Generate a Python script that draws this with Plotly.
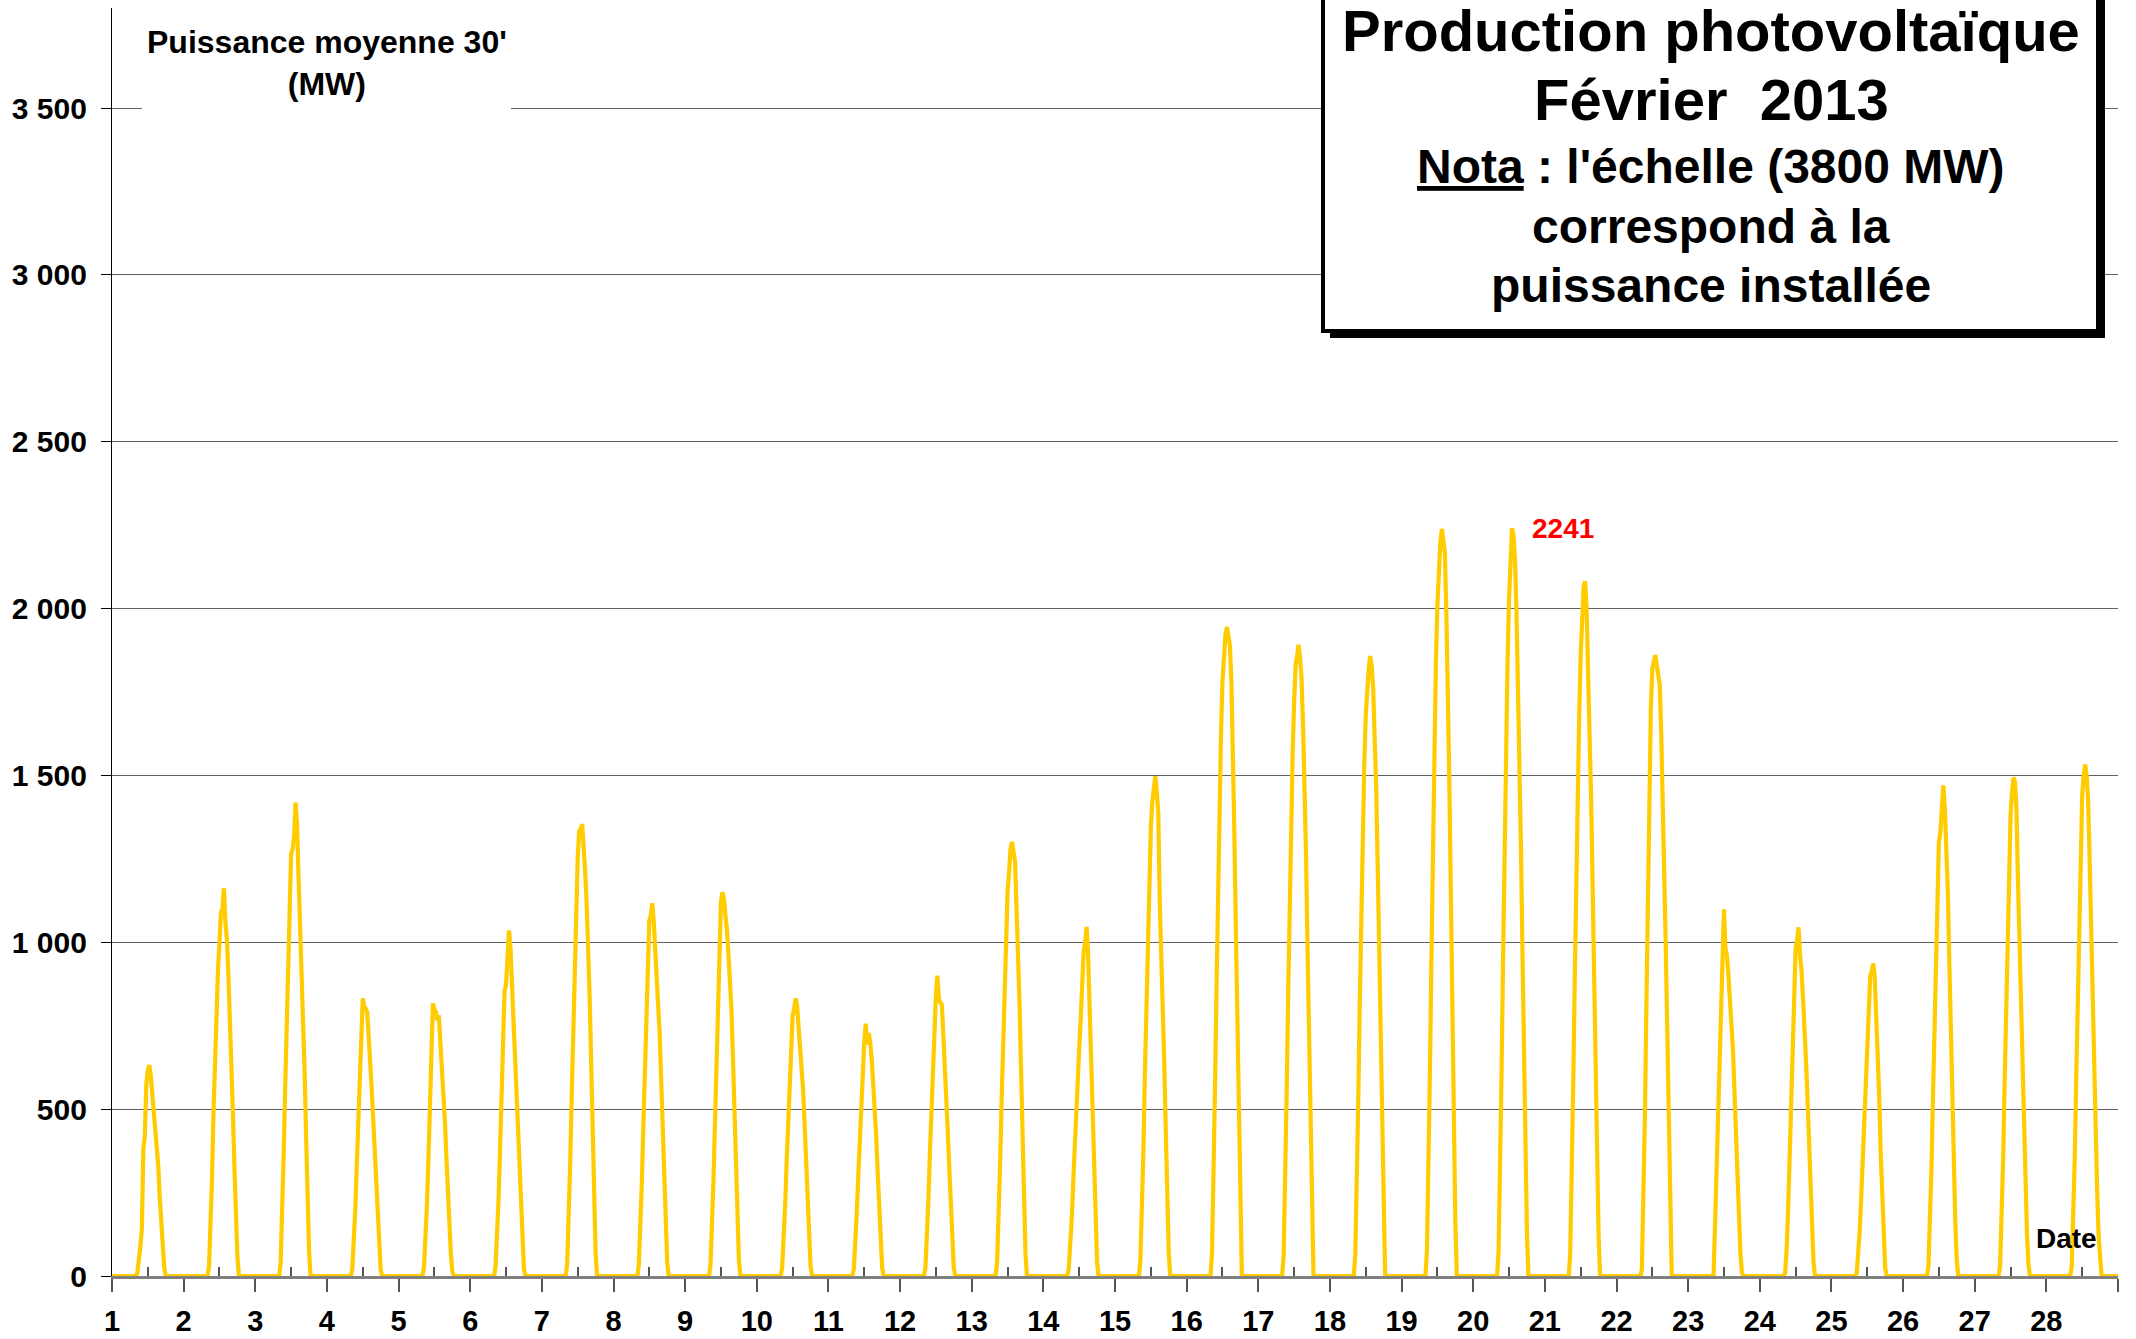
import plotly.graph_objects as go

# ---------------- DATA ----------------
# Half-hourly average PV power (MW), February 2013.
# Each list = values for the slots 08:00, 08:30, ..., 18:30 of that day (zero outside).
slot_start = "08:00"
day01 = [0, 10, 40, 90, 140, 380, 420, 575, 616, 632, 600, 544, 524, 470, 410, 330, 235, 150, 80, 25, 0, 0]
day02 = [0, 30, 150, 290, 490, 650, 780, 915, 1000, 1090, 1100, 1162, 1060, 1008, 900, 780, 640, 490, 330, 180, 60, 0]
day03 = [0, 40, 170, 360, 560, 760, 950, 1100, 1265, 1280, 1318, 1419, 1350, 1194, 1060, 936, 800, 620, 430, 240, 80, 0]
day04 = [0, 20, 100, 200, 330, 480, 620, 780, 832, 807, 802, 790, 730, 640, 560, 470, 338, 250, 160, 80, 20, 0]
day05 = [0, 25, 100, 210, 350, 520, 700, 817, 800, 790, 766, 781, 700, 627, 560, 470, 360, 250, 150, 70, 15, 0]
day06 = [0, 30, 110, 230, 380, 560, 720, 854, 874, 960, 1036, 980, 870, 781, 700, 590, 450, 330, 200, 90, 20, 0]
day07 = [0, 40, 160, 340, 540, 740, 920, 1080, 1250, 1333, 1340, 1354, 1300, 1214, 1120, 998, 840, 650, 440, 230, 70, 0]
day08 = [0, 35, 130, 280, 450, 620, 780, 900, 1065, 1080, 1117, 1060, 972, 920, 830, 720, 580, 440, 290, 150, 40, 0]
day09 = [0, 35, 140, 290, 460, 640, 800, 950, 1122, 1150, 1130, 1080, 1040, 965, 900, 801, 660, 500, 330, 170, 50, 0]
day10 = [0, 25, 100, 210, 340, 470, 590, 690, 780, 800, 832, 810, 754, 710, 640, 560, 460, 350, 230, 120, 30, 0]
day11 = [0, 20, 90, 190, 300, 420, 530, 630, 700, 756, 694, 728, 700, 650, 587, 510, 420, 310, 200, 100, 25, 0]
day12 = [0, 25, 110, 230, 370, 510, 640, 760, 840, 900, 830, 820, 813, 720, 598, 520, 430, 320, 210, 100, 25, 0]
day13 = [0, 40, 160, 330, 520, 710, 880, 1030, 1150, 1208, 1280, 1301, 1260, 1242, 1106, 980, 820, 630, 430, 230, 70, 0]
day14 = [0, 20, 80, 170, 280, 400, 520, 598, 680, 767, 870, 971, 1000, 1046, 960, 801, 640, 485, 300, 147, 40, 0]
day15 = [0, 45, 180, 370, 600, 820, 1030, 1200, 1343, 1420, 1467, 1498, 1450, 1388, 1117, 980, 820, 640, 440, 230, 70, 0]
day16 = [0, 70, 280, 560, 860, 1150, 1420, 1620, 1780, 1870, 1922, 1945, 1920, 1889, 1780, 1580, 1320, 1030, 720, 410, 150, 0]
day17 = [0, 65, 270, 540, 840, 1120, 1380, 1560, 1720, 1830, 1858, 1892, 1850, 1790, 1650, 1494, 1260, 980, 690, 400, 140, 0]
day18 = [0, 65, 260, 530, 820, 1090, 1330, 1530, 1680, 1760, 1820, 1858, 1827, 1760, 1640, 1460, 1230, 950, 670, 380, 130, 0]
day19 = [0, 75, 300, 610, 950, 1280, 1580, 1840, 2010, 2120, 2200, 2239, 2190, 2167, 1990, 1780, 1480, 1150, 800, 460, 170, 0]
day20 = [0, 75, 300, 610, 950, 1280, 1580, 1840, 2030, 2183, 2241, 2220, 2144, 1990, 1780, 1560, 1280, 970, 660, 370, 130, 0]
day21 = [0, 70, 280, 570, 880, 1180, 1450, 1680, 1860, 1960, 2067, 2082, 2000, 1800, 1640, 1430, 1170, 890, 610, 340, 120, 0]
day22 = [0, 20, 200, 470, 800, 1130, 1420, 1700, 1820, 1850, 1861, 1830, 1800, 1772, 1620, 1455, 1200, 990, 720, 420, 160, 0]
day23 = [0, 0, 150, 320, 500, 700, 850, 1037, 1099, 983, 960, 900, 836, 760, 681, 560, 430, 300, 170, 70, 10, 0]
day24 = [0, 10, 80, 200, 350, 520, 700, 850, 980, 1006, 1045, 960, 913, 830, 759, 640, 526, 400, 270, 140, 40, 0]
day25 = [0, 10, 60, 140, 240, 350, 450, 526, 650, 800, 900, 913, 937, 898, 800, 681, 540, 371, 220, 100, 25, 0]
day26 = [0, 30, 140, 320, 530, 750, 960, 1150, 1300, 1331, 1420, 1470, 1400, 1300, 1150, 940, 720, 510, 320, 160, 45, 0]
day27 = [0, 30, 150, 340, 570, 810, 1030, 1220, 1378, 1450, 1494, 1480, 1393, 1180, 990, 840, 650, 450, 280, 130, 35, 0]
day28 = [0, 30, 150, 350, 590, 830, 1060, 1270, 1440, 1500, 1533, 1500, 1424, 1250, 1030, 830, 630, 440, 260, 120, 30, 0]

days = [day01, day02, day03, day04, day05, day06, day07, day08, day09, day10,
        day11, day12, day13, day14, day15, day16, day17, day18, day19, day20,
        day21, day22, day23, day24, day25, day26, day27, day28]

x_tick_labels = [str(d) for d in range(1, 29)]
y_tick_values = [0, 500, 1000, 1500, 2000, 2500, 3000, 3500]
y_tick_labels = ["0", "500", "1 000", "1 500", "2 000", "2 500", "3 000", "3 500"]
max_value_label = "2241"

# ---------------- BUILD SERIES ----------------
h0, m0 = map(int, slot_start.split(":"))
first_slot = h0 * 2 + m0 // 30
xs, ys = [], []
for i, arr in enumerate(days):
    d = i + 1
    full = [0] * 48
    full[first_slot:first_slot + len(arr)] = arr
    for k in range(48):
        xs.append(d + k / 48)
        ys.append(full[k])
xs.append(len(days) + 1)
ys.append(0)

# ---------------- FIGURE ----------------
W, H = 2136, 1339
PLOT_L, PLOT_R, PLOT_T, PLOT_B = 112, 2118, 8, 1276   # screen pixels of the plot area
ML, MT, MR, MB = PLOT_L, PLOT_T, W - PLOT_R, H - PLOT_B
PW, PH = W - ML - MR, H - MT - MB


def px(xpix):
    return (xpix - PLOT_L) / PW


def py(ypix):
    return (PLOT_B - ypix) / PH


FONT = "Liberation Sans, Arial, sans-serif"

fig = go.Figure()
fig.add_trace(go.Scatter(
    x=xs, y=ys, mode="lines",
    line=dict(color="#FFCC00", width=4.2, shape="linear"),
    hoverinfo="skip", showlegend=False,
))

fig.update_layout(
    width=W, height=H,
    margin=dict(l=ML, r=MR, t=MT, b=MB, pad=0, autoexpand=False),
    paper_bgcolor="white", plot_bgcolor="white",
    font=dict(family=FONT, color="black"),
    showlegend=False,
)

fig.update_xaxes(
    range=[1, len(days) + 1],
    automargin=False,
    tickmode="array",
    tickvals=list(range(1, len(days) + 2)),
    ticktext=[f"<b>{t}</b>" for t in x_tick_labels] + [""],
    ticks="outside", ticklen=13, tickwidth=1.5, tickcolor="#555555",
    tickfont=dict(size=29, family=FONT, color="black"),
    ticklabelstandoff=4,
    showgrid=False, zeroline=False,
    showline=True, linecolor="#808080", linewidth=2.5,
    minor=dict(tickmode="array",
               tickvals=[d + 0.5 for d in range(1, len(days) + 1)],
               ticks="inside", ticklen=9, tickwidth=1.5, tickcolor="#555555",
               showgrid=False),
)

fig.update_yaxes(
    range=[0, 3800],
    automargin=False,
    tickmode="array",
    tickvals=y_tick_values,
    ticktext=[f"<b>{t}</b>" for t in y_tick_labels],
    ticks="outside", ticklen=10, tickwidth=1, tickcolor="black",
    tickfont=dict(size=30, family=FONT, color="black"),
    ticklabelstandoff=8,
    showgrid=True, gridcolor="#606060", gridwidth=1,
    zeroline=False,
    showline=True, linecolor="black", linewidth=1.2,
)

shapes = []
# white patch behind the unit label (hides the 3500 gridline)
shapes.append(dict(type="rect", xref="paper", yref="paper",
                   x0=px(142), x1=px(511), y0=py(116), y1=py(12),
                   fillcolor="white", line=dict(width=0), layer="above"))
# title box shadow
shapes.append(dict(type="rect", xref="paper", yref="paper",
                   x0=px(1330), x1=px(2105), y0=py(338), y1=py(-20),
                   fillcolor="black", line=dict(width=0), layer="above"))
# title box
shapes.append(dict(type="rect", xref="paper", yref="paper",
                   x0=px(1323), x1=px(2098), y0=py(331), y1=py(-20),
                   fillcolor="white", line=dict(color="black", width=4), layer="above"))
fig.update_layout(shapes=shapes)

ann = []
cx = px(1711)
title_lines = [
    ("<b>Production photovoltaïque</b>", 58, 31),
    ("<b>Février  2013</b>", 58, 100),
    ("<b><u>Nota</u> : l'échelle (3800 MW)</b>", 48, 166),
    ("<b>correspond à la</b>", 48, 226),
    ("<b>puissance installée</b>", 48, 286),
]
for txt, size, ypix in title_lines:
    ann.append(dict(xref="paper", yref="paper", x=cx, y=py(ypix),
                    text=txt, showarrow=False, xanchor="center", yanchor="middle",
                    font=dict(size=size, family=FONT, color="black")))

ann.append(dict(xref="paper", yref="paper", x=px(327), y=py(63),
                text="<b>Puissance moyenne 30'<br>(MW)</b>", showarrow=False,
                xanchor="center", yanchor="middle", align="center",
                font=dict(size=32, family=FONT, color="black")))

ann.append(dict(xref="paper", yref="paper", x=px(2066), y=py(1238),
                text="<b>Date</b>", showarrow=False, xanchor="center", yanchor="middle",
                font=dict(size=28, family=FONT, color="black")))

ann.append(dict(xref="paper", yref="paper", x=px(1563), y=py(528),
                text=f"<b>{max_value_label}</b>", showarrow=False,
                xanchor="center", yanchor="middle",
                font=dict(size=28, family=FONT, color="red")))

fig.update_layout(annotations=ann)

# remove the default 8px page margin so the figure fills the window exactly
fig.write_html("out.html",
               config={"displayModeBar": False},
               post_script="document.body.style.margin='0';document.body.style.padding='0';"
                           "document.documentElement.style.overflow='hidden';")
